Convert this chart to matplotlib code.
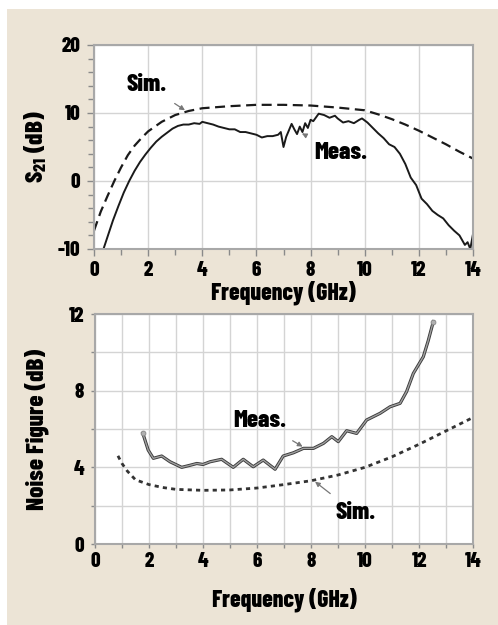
import numpy as np
import matplotlib
matplotlib.use("Agg")
import matplotlib.pyplot as plt
from matplotlib.patches import Rectangle
import matplotlib.patheffects as pe

plt.rcParams['font.family'] = ['Barlow Condensed', 'DejaVu Sans']
plt.rcParams['font.weight'] = 'heavy'
plt.rcParams['axes.labelweight'] = 'heavy'
plt.rcParams['axes.unicode_minus'] = False
plt.rcParams['mathtext.fontset'] = 'custom'
plt.rcParams['mathtext.rm'] = 'Barlow Condensed:heavy'
plt.rcParams['mathtext.it'] = 'Barlow Condensed:heavy'
plt.rcParams['mathtext.bf'] = 'Barlow Condensed:heavy'

# S21 - simulated
s21_sim_f = [0, 0.25, 0.5, 0.75, 1.0, 1.25, 1.5, 1.75, 2.0, 2.5, 3.0, 3.5, 4.0, 5.0, 6.0,
             7.0, 8.0, 9.0, 10.0, 10.5, 11.0, 11.5, 12.0, 12.5, 13.0, 13.5, 14.0]
s21_sim = [-7.3, -4.5, -2.2, 0.0, 2.0, 3.8, 5.2, 6.3, 7.3, 8.7, 9.7, 10.3, 10.7, 11.0, 11.2,
           11.2, 11.1, 10.8, 10.4, 9.8, 9.1, 8.3, 7.4, 6.4, 5.4, 4.3, 3.3]

# S21 - measured
s21_meas_f = [0.35, 0.5, 0.7, 0.9, 1.1, 1.3, 1.5, 1.7, 1.9, 2.1, 2.3, 2.5, 2.7, 2.9, 3.1, 3.3,
              3.5, 3.7, 3.9, 4.0, 4.2, 4.4, 4.6, 4.8, 5.0, 5.2, 5.4, 5.6, 5.8, 6.0, 6.2, 6.4,
              6.6, 6.8, 6.9, 7.0, 7.1, 7.3, 7.4, 7.5, 7.6, 7.7, 7.8, 7.9, 8.0, 8.1, 8.3, 8.5,
              8.7, 8.9, 9.0, 9.2, 9.4, 9.6, 9.8, 9.9, 10.1, 10.3, 10.5, 10.7, 10.9, 11.1,
              11.3, 11.5, 11.7, 11.9, 12.1, 12.3, 12.5, 12.7, 12.9, 13.1, 13.3, 13.5, 13.7,
              13.8, 13.9, 14.0]
s21_meas = [-10.0, -8.2, -5.8, -3.7, -1.7, 0.0, 1.5, 2.8, 3.9, 4.9, 5.8, 6.5, 7.1, 7.7, 8.1, 8.3,
            8.3, 8.5, 8.4, 8.7, 8.5, 8.3, 8.0, 7.8, 7.6, 7.6, 7.2, 7.2, 7.0, 6.8, 6.4, 6.6,
            6.6, 6.8, 7.2, 5.0, 6.5, 8.4, 7.6, 6.9, 8.0, 7.2, 8.5, 7.8, 9.0, 8.8, 9.9, 9.7,
            9.3, 9.6, 9.2, 8.6, 8.8, 8.5, 9.0, 9.2, 8.6, 7.8, 7.0, 6.3, 5.4, 5.0,
            4.0, 2.5, 0.5, -0.6, -2.6, -3.4, -4.4, -5.0, -5.5, -6.5, -7.3, -8.0, -9.4,
            -9.0, -10.0, -7.8]

# Noise figure - measured
nf_meas_f = [1.77, 1.97, 2.16, 2.47, 2.78, 3.21, 3.5, 3.77, 4.0, 4.26, 4.69, 5.12, 5.49, 5.86,
             6.23, 6.67, 6.97, 7.35, 7.72, 8.09, 8.46, 8.77, 9.01, 9.32, 9.69, 10.06, 10.56,
             10.93, 11.3, 11.54, 11.79, 12.16, 12.34, 12.53]
nf_meas = [5.78, 4.9, 4.47, 4.59, 4.29, 4.0, 4.1, 4.2, 4.15, 4.29, 4.42, 4.0, 4.42, 4.03,
           4.38, 3.9, 4.59, 4.76, 4.99, 4.99, 5.25, 5.6, 5.34, 5.91, 5.77, 6.47, 6.82,
           7.16, 7.34, 7.95, 8.9, 9.77, 10.6, 11.6]

# Noise figure - simulated
nf_sim_f = [0.85, 1.0, 1.2, 1.5, 2.0, 2.5, 3.0, 4.0, 5.0, 6.0, 7.0, 8.0, 9.0, 10.0, 11.0, 12.0, 13.0, 14.0]
nf_sim = [4.6, 4.2, 3.8, 3.35, 3.1, 2.95, 2.85, 2.8, 2.82, 2.92, 3.1, 3.3, 3.6, 4.0, 4.55, 5.2, 5.9, 6.6]

fig = plt.figure(figsize=(4.98, 6.25), dpi=100, facecolor='white')
fig.patches.append(Rectangle((7 / 498, 0), 1, 1 - 9 / 625, transform=fig.transFigure,
                             facecolor='#ece4d6', edgecolor='none', zorder=-10))

ax1 = fig.add_axes([94 / 498, 1 - 249 / 625, 379 / 498, 204 / 625])
ax2 = fig.add_axes([95 / 498, 1 - 544 / 625, 378 / 498, 230 / 625])

spine_c = '#a8a8a8'
grid_c = '#d4d4d4'
arrow = dict(arrowstyle='-|>', color='#777777', lw=0.9, mutation_scale=7, shrinkB=0)
for ax in (ax1, ax2):
    ax.set_facecolor('white')
    for s in ax.spines.values():
        s.set_color(spine_c)
        s.set_linewidth(1.5)
    ax.tick_params(which='both', direction='out', color='#8a8a8a', labelsize=15)
    ax.tick_params(which='major', length=5, width=1)
    ax.tick_params(which='minor', length=4, width=1)
    ax.tick_params(axis='y', pad=5)

# --- top: S21 ---
ax1.plot(s21_sim_f, s21_sim, color='#1a1a1a', lw=1.6, dashes=(4.5, 2.5))
ax1.plot(s21_meas_f, s21_meas, color='#1a1a1a', lw=1.4)
ax1.set_xlim(0, 14)
ax1.set_ylim(-10, 20)
ax1.set_xticks(np.arange(0, 15, 2))
ax1.set_xticks(np.arange(1, 14, 2), minor=True)
ax1.set_yticks([-10, 0, 10, 20])
ax1.set_yticks(np.arange(-8, 20, 2), minor=True)
ax1.grid(True, which='major', color=grid_c, lw=1)
ax1.tick_params(axis='x', pad=4)
ax1.set_xlabel('Frequency (GHz)', fontsize=17, labelpad=0)
ax1.set_ylabel(r'S$_{21}$ (dB)', fontsize=18, labelpad=6)
ax1.annotate('Sim.', xy=(3.36, 10.4), xytext=(1.95, 14.1), fontsize=18,
             ha='center', va='center', arrowprops=dict(arrow, shrinkA=6))
ax1.annotate('Meas.', xy=(7.68, 7.0), xytext=(9.1, 4.1), fontsize=18,
             ha='center', va='center', arrowprops=dict(arrow, shrinkA=8))

# --- bottom: noise figure ---
ax2.plot(nf_sim_f, nf_sim, color='#333333', lw=2, dashes=(1.5, 1.5))
ax2.plot(nf_meas_f, nf_meas, color='#a0a0a0', lw=1.0,
         path_effects=[pe.Stroke(linewidth=2.3, foreground='#3a3a3a'), pe.Normal()])
ax2.plot([nf_meas_f[0], nf_meas_f[-1]], [nf_meas[0], nf_meas[-1]], 'o', ms=3.5,
         color='#b0b0b0', mec='#888888', mew=0.6)
ax2.set_xlim(0, 14)
ax2.set_ylim(0, 12)
ax2.set_xticks(np.arange(0, 15, 2))
ax2.set_xticks(np.arange(1, 14, 2), minor=True)
ax2.set_yticks([0, 4, 8, 12])
ax2.set_yticks(np.arange(2, 12, 2), minor=True)
ax2.grid(True, which='both', color=grid_c, lw=1)
ax2.tick_params(which='both', length=3)
ax2.tick_params(axis='x', pad=3)
ax2.set_xlabel('Frequency (GHz)', fontsize=17, labelpad=12)
ax2.set_ylabel('Noise Figure (dB)', fontsize=18, labelpad=14)
ax2.annotate('Meas.', xy=(7.69, 5.08), xytext=(6.1, 6.4), fontsize=18,
             ha='center', va='center', arrowprops=dict(arrow, shrinkA=8))
ax2.annotate('Sim.', xy=(8.15, 3.25), xytext=(9.65, 1.6), fontsize=18,
             ha='center', va='center', arrowprops=dict(arrow, shrinkA=7))

fig.savefig('out.png', dpi=100, facecolor=fig.get_facecolor())
